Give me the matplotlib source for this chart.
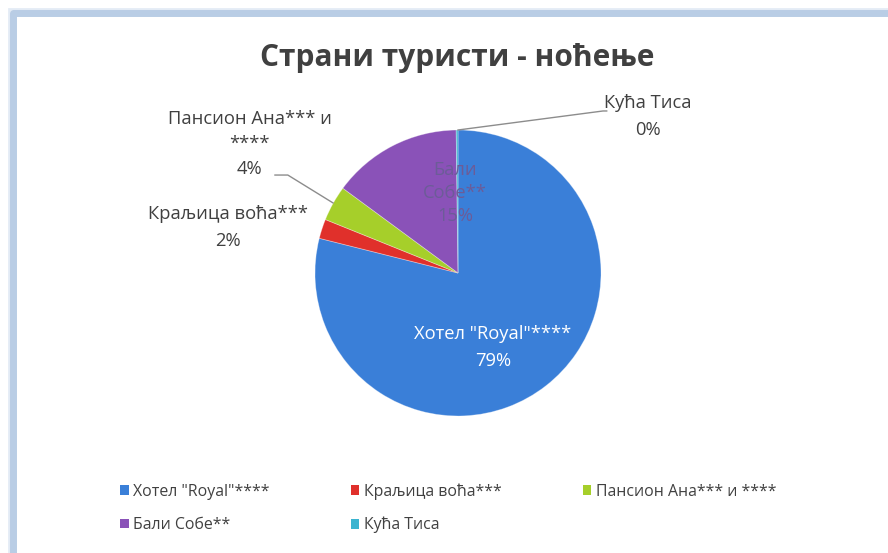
import matplotlib
matplotlib.use("Agg")
import matplotlib.pyplot as plt
from matplotlib.patches import Rectangle, Patch

plt.rcParams['font.family'] = ['Open Sans', 'DejaVu Sans']

# ---- data ----
title = "Страни туристи - ноћење"
categories = ['Хотел "Royal"****', 'Краљица воћа***', 'Пансион Ана*** и ****',
              'Бали Собе**', 'Кућа Тиса']
values = [78.9, 2.2, 4.0, 14.7, 0.2]
colors = ['#3a7fd8', '#e0302b', '#a6cf2a', '#8a52b8', '#3bb4d0']

W, H = 888, 553
fig = plt.figure(figsize=(W / 100, H / 100), dpi=100)
fig.patch.set_facecolor('white')

# chart frame (light blue border, cut off at right/bottom)
frame = Rectangle((13 / W, -0.2), 1.3, 1.2 - 13 / H, transform=fig.transFigure,
                  facecolor='white', edgecolor='#b9cde5', linewidth=5, zorder=-2,
                  joinstyle='round')
fig.patches.append(frame)
frame2 = Rectangle((9 / W, -0.2), 1.3, 1.2 - 9 / H, transform=fig.transFigure,
                   facecolor='none', edgecolor='#e3ebf5', linewidth=2, zorder=-3)
fig.patches.append(frame2)

cx, cy, r = 458, 273, 143
ax = fig.add_axes([(cx - r) / W, (H - cy - r) / H, 2 * r / W, 2 * r / H])
ax.set_zorder(1)
wedges, _ = ax.pie(values, colors=colors, startangle=90, counterclock=False,
                   radius=1, wedgeprops=dict(linewidth=0.6, edgecolor=(1, 1, 1, 0.35)))
ax.set_xlim(-1, 1)
ax.set_ylim(-1, 1)
ax.set_aspect('equal')
ax.axis('off')

total = sum(values)
pct = [f"{round(v / total * 100):.0f}%" for v in values]

lab_color = '#404040'
fs = 13.2
ls = 1.6

# labels
ax.text(0.245, -0.52, f"{categories[0]}\n{pct[0]}", ha='center', va='center',
        color='white', fontsize=fs, linespacing=ls, clip_on=False)
ax.text(-0.02, 0.559, "Бали\nСобе**\n" + pct[3], ha='center', va='center',
        color='#6c5c98', fontsize=fs, linespacing=1.35, clip_on=False)
ax.text(1.325, 1.095, f"{categories[4]}\n{pct[4]}", ha='center', va='center',
        color=lab_color, fontsize=fs, linespacing=ls, clip_on=False)
ax.text(-1.455, 0.905, "Пансион Ана*** и\n****\n" + pct[2], ha='center', va='center',
        color=lab_color, fontsize=fs, linespacing=1.5, clip_on=False)
ax.text(-1.608, 0.318, f"{categories[1]}\n{pct[1]}", ha='center', va='center',
        color=lab_color, fontsize=fs, linespacing=ls, clip_on=False)

# leader lines
ax.plot([0.0, 1.014, 1.04], [1.0, 1.133, 1.133], color='#8c8c8c', lw=1, clip_on=False)
ax.plot([-1.28, -1.19, -0.874], [0.685, 0.685, 0.49], color='#8c8c8c', lw=1, clip_on=False)

fig.text(457 / W, 1 - 58 / H, title, ha='center', va='center', fontsize=21.5,
         fontweight='bold', color='#404040')

# legend (row-major order like reference)
handles = [Patch(facecolor=c, edgecolor='none') for c in colors]
order = [0, 3, 1, 4, 2]
leg = fig.legend([handles[i] for i in order], [categories[i] for i in order],
                 loc='upper left', bbox_to_anchor=(120 / W, 1 - 483 / H), ncol=3,
                 frameon=False, fontsize=11.4, handlelength=0.55, handleheight=0.55,
                 handletextpad=0.3, columnspacing=5.1, labelspacing=1.1,
                 borderaxespad=0, borderpad=0)
for t in leg.get_texts():
    t.set_color(lab_color)

fig.savefig('out.png', dpi=100, facecolor='white')
